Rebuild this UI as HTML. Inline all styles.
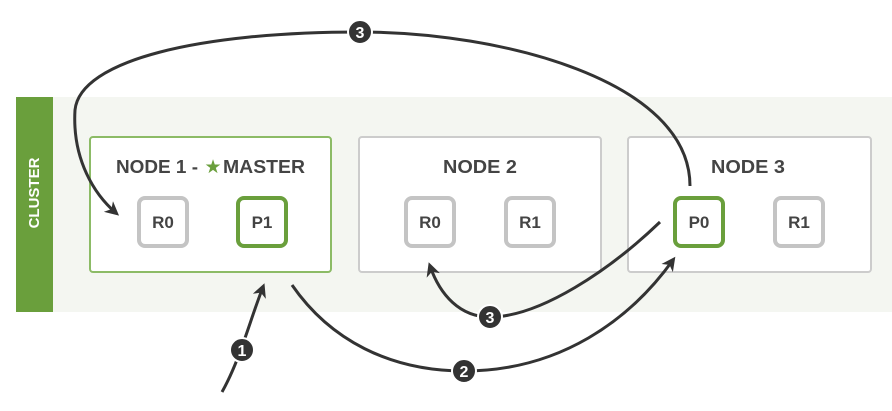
<!DOCTYPE html>
<html><head><style>
body{margin:0;width:892px;height:406px;background:#fff;overflow:hidden;font-family:"Liberation Sans",sans-serif}
</style></head><body>
<svg width="892" height="406" viewBox="0 0 892 406" xmlns="http://www.w3.org/2000/svg">
<defs>
<marker id="b" markerWidth="14" markerHeight="14" refX="10" refY="7" orient="auto" markerUnits="userSpaceOnUse" viewBox="0 0 14 14">
<path d="M0,0 L14,7 L0,14 L4,7 z" fill="#333"/></marker>
</defs>
<rect x="16" y="97" width="876" height="215" fill="#f4f6f1"/>
<rect x="16" y="97" width="37" height="215" fill="#6a9f3c"/>
<text x="35" y="193" fill="#fff" font-size="15" font-weight="bold" text-anchor="middle" transform="rotate(-90 35 193)" dominant-baseline="middle">CLUSTER</text>
<rect x="90" y="137" width="241" height="135" rx="3" fill="#fff" stroke="#8cbb66" stroke-width="2"/>
<rect x="359" y="137" width="242" height="135" rx="3" fill="#fff" stroke="#ccc" stroke-width="2"/>
<rect x="628" y="137" width="243" height="135" rx="3" fill="#fff" stroke="#ccc" stroke-width="2"/>
<g font-size="18" font-weight="bold" fill="#444" text-anchor="middle">
<text x="157" y="173" textLength="82" lengthAdjust="spacingAndGlyphs">NODE 1 -</text>
<text x="264" y="173" textLength="82" lengthAdjust="spacingAndGlyphs">MASTER</text>
<text x="480" y="173" textLength="74" lengthAdjust="spacingAndGlyphs">NODE 2</text>
<text x="748" y="173" textLength="74" lengthAdjust="spacingAndGlyphs">NODE 3</text>
</g>
<text x="213" y="173" font-size="19" fill="#6a9f3c" text-anchor="middle">★</text>
<g fill="#fff" stroke-width="4">
<rect x="139" y="198" width="48" height="48" rx="6" stroke="#c4c4c4"/>
<rect x="238" y="198" width="48" height="48" rx="6" stroke="#6a9f3c"/>
<rect x="406" y="198" width="48" height="48" rx="6" stroke="#c4c4c4"/>
<rect x="506" y="198" width="48" height="48" rx="6" stroke="#c4c4c4"/>
<rect x="675" y="198" width="48" height="48" rx="6" stroke="#6a9f3c"/>
<rect x="775" y="198" width="48" height="48" rx="6" stroke="#c4c4c4"/>
</g>
<g font-size="17" font-weight="bold" fill="#444" text-anchor="middle">
<text x="163" y="228">R0</text><text x="262" y="228">P1</text>
<text x="430" y="228">R0</text><text x="530" y="228">R1</text>
<text x="699" y="228">P0</text><text x="799" y="228">R1</text>
</g>
<g fill="none" stroke="#333" stroke-width="3">
<path d="M690,186 C690,80 500,32 360,32 C200,32 80,60 75,110 C72,160 95,195 116,213" marker-end="url(#b)"/>
<path d="M222,392 C240,360 250,320 263,287" marker-end="url(#b)"/>
<path d="M292,285 C330,340 390,371 464,371 C560,371 630,320 673,260" marker-end="url(#b)"/>
<path d="M660,222 C610,270 540,317 490,317 C460,317 440,295 430,266" marker-end="url(#b)"/>
</g>
<g font-size="16" font-weight="bold" fill="#fff" text-anchor="middle">
<circle cx="360" cy="32" r="12" fill="#333" stroke="#fff" stroke-width="2"/><text x="360" y="38">3</text>
<circle cx="242" cy="350" r="12" fill="#333" stroke="#fff" stroke-width="2"/><text x="242" y="356">1</text>
<circle cx="464" cy="371" r="12" fill="#333" stroke="#fff" stroke-width="2"/><text x="464" y="377">2</text>
<circle cx="490" cy="317" r="12" fill="#333" stroke="#fff" stroke-width="2"/><text x="490" y="323">3</text>
</g>
</svg>
</body></html>
